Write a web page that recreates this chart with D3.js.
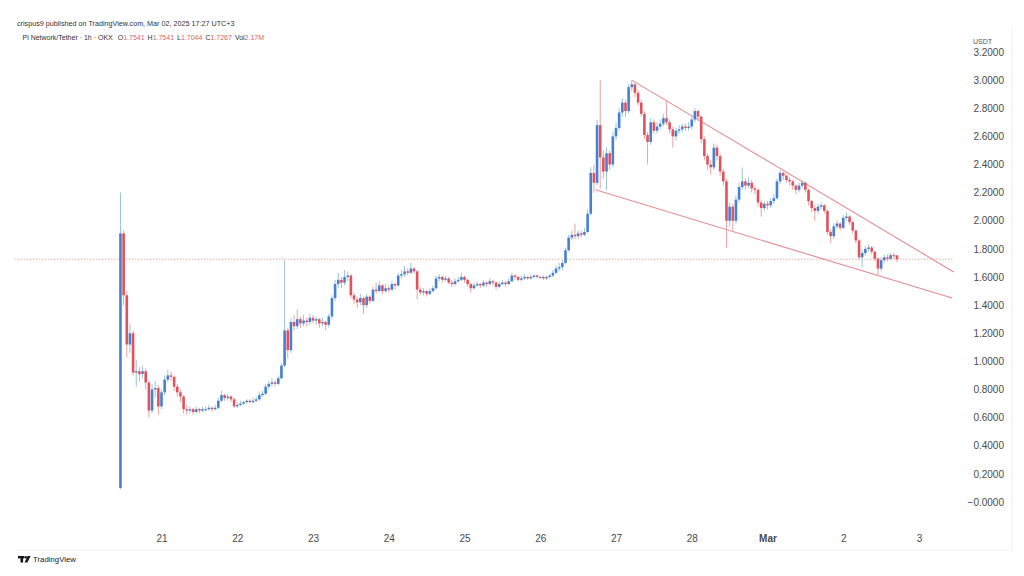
<!DOCTYPE html>
<html><head><meta charset="utf-8">
<script src="https://cdn.jsdelivr.net/npm/d3@7"></script>
<style>body{margin:0;background:#fff}svg{display:block;font-family:"Liberation Sans",Arial,sans-serif}</style>
</head><body><svg id="c" width="1024" height="576"></svg>
<script>
// ---- data (Pi Network / Tether, 1h, OKX; times in UTC+3) ----
const seriesStart = "2025-02-20T11:00";
const firstOpen = 0.10;
const closes = [
1.91,1.47,1.12,1.20,0.92,0.93,0.91,0.93,0.85,0.65,
0.80,0.81,0.68,0.78,0.87,0.90,0.89,0.82,0.78,0.75,
0.66,0.65,0.66,0.64,0.66,0.65,0.66,0.66,0.67,0.66,
0.67,0.72,0.76,0.74,0.75,0.73,0.68,0.69,0.70,0.71,
0.72,0.71,0.72,0.73,0.76,0.77,0.82,0.84,0.85,0.84,
0.88,0.97,1.22,1.08,1.28,1.25,1.30,1.27,1.29,1.28,
1.31,1.29,1.30,1.27,1.28,1.26,1.32,1.45,1.55,1.58,
1.56,1.60,1.61,1.47,1.44,1.42,1.45,1.40,1.46,1.43,
1.51,1.50,1.54,1.50,1.52,1.51,1.55,1.54,1.61,1.62,
1.64,1.63,1.66,1.64,1.51,1.49,1.50,1.48,1.50,1.52,
1.59,1.60,1.58,1.59,1.56,1.55,1.57,1.58,1.60,1.58,
1.55,1.52,1.54,1.55,1.54,1.56,1.55,1.57,1.56,1.53,
1.55,1.56,1.55,1.57,1.61,1.60,1.58,1.59,1.60,1.59,
1.60,1.61,1.60,1.60,1.59,1.60,1.61,1.63,1.66,1.67,
1.70,1.79,1.88,1.90,1.89,1.91,1.90,1.92,2.05,2.34,
2.27,2.68,2.45,2.35,2.48,2.40,2.60,2.66,2.77,2.84,
2.78,2.95,2.97,2.91,2.84,2.76,2.61,2.56,2.70,2.64,
2.67,2.69,2.73,2.70,2.65,2.60,2.64,2.65,2.67,2.66,
2.67,2.72,2.78,2.74,2.58,2.46,2.40,2.38,2.52,2.46,
2.35,2.28,2.00,2.10,2.00,2.15,2.24,2.28,2.25,2.27,
2.23,2.22,2.13,2.09,2.12,2.11,2.14,2.16,2.28,2.34,
2.32,2.29,2.28,2.25,2.22,2.25,2.27,2.22,2.14,2.09,
2.07,2.10,2.11,2.07,1.92,1.89,1.96,1.98,1.95,2.02,
2.03,1.99,1.93,1.86,1.74,1.77,1.80,1.81,1.78,1.73,
1.66,1.72,1.74,1.73,1.755,1.7541,1.7267];
const highs = [
2.20,1.93,1.50,1.27,1.22,1.01,0.96,0.97,0.95,0.86,
0.84,0.86,0.83,0.80,0.90,0.94,0.93,0.90,0.84,0.80,
0.76,0.69,0.68,0.67,0.68,0.67,0.68,0.68,0.69,0.68,
0.69,0.74,0.79,0.77,0.77,0.76,0.74,0.71,0.72,0.72,
0.73,0.73,0.74,0.75,0.78,0.79,0.84,0.86,0.88,0.87,
0.90,0.99,1.72,1.24,1.31,1.33,1.37,1.32,1.33,1.31,
1.34,1.33,1.32,1.31,1.31,1.29,1.34,1.47,1.58,1.63,
1.60,1.65,1.64,1.62,1.49,1.46,1.48,1.46,1.48,1.47,
1.53,1.56,1.57,1.55,1.55,1.54,1.57,1.56,1.63,1.65,
1.68,1.66,1.70,1.67,1.65,1.53,1.52,1.51,1.52,1.54,
1.61,1.62,1.61,1.61,1.60,1.58,1.59,1.60,1.63,1.61,
1.59,1.56,1.56,1.57,1.56,1.58,1.57,1.59,1.58,1.57,
1.57,1.58,1.57,1.59,1.63,1.62,1.61,1.61,1.62,1.61,
1.62,1.62,1.62,1.61,1.61,1.61,1.62,1.65,1.68,1.70,
1.72,1.81,1.90,1.93,1.98,1.93,1.93,1.95,2.08,2.38,
2.40,2.72,3.00,2.50,2.52,2.50,2.63,2.70,2.80,2.87,
2.86,2.97,3.00,2.98,2.93,2.86,2.78,2.63,2.73,2.72,
2.70,2.72,2.76,2.86,2.72,2.67,2.66,2.68,2.69,2.69,
2.70,2.75,2.80,2.79,2.75,2.60,2.48,2.43,2.55,2.54,
2.48,2.37,2.30,2.13,2.12,2.18,2.27,2.38,2.30,2.31,
2.29,2.25,2.23,2.15,2.14,2.14,2.16,2.19,2.30,2.36,
2.35,2.33,2.31,2.29,2.26,2.27,2.29,2.28,2.23,2.15,
2.11,2.12,2.13,2.12,2.08,1.94,1.98,2.00,1.99,2.04,
2.06,2.04,2.00,1.94,1.87,1.79,1.82,1.83,1.82,1.79,
1.74,1.74,1.76,1.76,1.77,1.77,1.7541];
const lows = [
0.09,1.40,1.03,1.06,0.90,0.82,0.86,0.88,0.80,0.60,
0.63,0.74,0.62,0.66,0.76,0.85,0.86,0.79,0.75,0.71,
0.63,0.62,0.63,0.62,0.63,0.63,0.64,0.64,0.65,0.64,
0.65,0.66,0.71,0.72,0.72,0.71,0.67,0.67,0.68,0.69,
0.70,0.70,0.70,0.71,0.72,0.75,0.76,0.80,0.82,0.82,
0.83,0.87,0.96,1.02,1.06,1.22,1.23,1.24,1.25,1.25,
1.26,1.27,1.26,1.24,1.25,1.22,1.24,1.30,1.43,1.52,
1.52,1.54,1.57,1.45,1.41,1.38,1.40,1.34,1.38,1.41,
1.42,1.48,1.49,1.48,1.49,1.49,1.50,1.51,1.53,1.59,
1.60,1.61,1.62,1.62,1.44,1.47,1.47,1.46,1.47,1.49,
1.51,1.57,1.56,1.57,1.55,1.53,1.54,1.56,1.57,1.56,
1.53,1.49,1.51,1.53,1.52,1.53,1.53,1.54,1.54,1.51,
1.52,1.54,1.53,1.54,1.56,1.58,1.57,1.57,1.58,1.58,
1.58,1.59,1.59,1.59,1.58,1.58,1.59,1.60,1.62,1.64,
1.65,1.69,1.78,1.86,1.87,1.87,1.88,1.89,1.91,2.04,
2.20,2.25,2.23,2.30,2.22,2.36,2.38,2.57,2.64,2.74,
2.74,2.76,2.92,2.88,2.82,2.74,2.58,2.40,2.54,2.62,
2.62,2.65,2.67,2.68,2.62,2.52,2.57,2.62,2.63,2.64,
2.64,2.65,2.70,2.71,2.55,2.43,2.36,2.33,2.36,2.43,
2.32,2.25,1.81,1.96,1.92,1.98,2.13,2.22,2.22,2.23,
2.20,2.19,2.10,2.03,2.07,2.08,2.09,2.12,2.15,2.26,
2.29,2.27,2.25,2.22,2.19,2.20,2.23,2.20,2.11,2.06,
2.00,2.05,2.08,2.05,1.90,1.84,1.87,1.94,1.93,1.94,
2.00,1.97,1.91,1.84,1.72,1.67,1.75,1.78,1.76,1.71,
1.61,1.64,1.70,1.71,1.72,1.73,1.7044];
const volumeLabel = "2.17M";
const dayTicks = ["2025-02-21","2025-02-22","2025-02-23","2025-02-24","2025-02-25","2025-02-26","2025-02-27","2025-02-28","2025-03-01","2025-03-02","2025-03-03"];
const dayTickLabels = ["21","22","23","24","25","26","27","28","Mar","2","3"];
const priceTicks = [3.2,3.0,2.8,2.6,2.4,2.2,2.0,1.8,1.6,1.4,1.2,1.0,0.8,0.6,0.4,0.2,0];
const priceTickLabels = ["3.2000","3.0000","2.8000","2.6000","2.4000","2.2000","2.0000","1.8000","1.6000","1.4000","1.2000","1.0000","0.8000","0.6000","0.4000","0.2000","\u22120.0000"];
const upperTrend = [["2025-02-27T05:00",3.00],["2025-03-03T11:00",1.636]];
const lowerTrend = [["2025-02-26T17:30",2.22],["2025-03-03T10:30",1.45]];

// ---- rendering ----
const UP = "#4680d2", DOWN = "#e0535d", UPW = "#9cc5d3", DOWNW = "#e9a2a7";
const pT = d3.utcParse("%Y-%m-%dT%H:%M"), pD = d3.utcParse("%Y-%m-%d");
const svg = d3.select("#c");
svg.append("rect").attr("width",1024).attr("height",576).attr("fill","#fff");

const x = d3.scaleUtc().domain([pD("2025-02-21"), pD("2025-03-03")]).range([161.5, 919]);
const y = d3.scaleLinear().domain([0, 3.2]).range([502, 52]);

const t0 = pT(seriesStart);
const candles = closes.map((c,i)=>({
  t: d3.utcHour.offset(t0, i),
  o: i===0 ? firstOpen : closes[i-1],
  h: highs[i], l: lows[i], c: c
}));
const last = candles[candles.length-1];

// faint frame
svg.append("line").attr("x1",1012).attr("x2",1012).attr("y1",28).attr("y2",550).attr("stroke","#f1f1f1");
svg.append("line").attr("x1",15).attr("x2",1012).attr("y1",550).attr("y2",550).attr("stroke","#f1f1f1");

// last price dotted line
svg.append("line").attr("x1",15).attr("x2",953)
  .attr("y1",y(last.c)).attr("y2",y(last.c))
  .attr("stroke","#e8a49a").attr("stroke-width",0.9).attr("stroke-dasharray","1.5,1.5");

// trendlines
const tl = d3.line().x(d=>x(pT(d[0]))).y(d=>y(d[1]));
[upperTrend, lowerTrend].forEach(tr=>{
  svg.append("path").attr("d", tl(tr)).attr("fill","none").attr("stroke","#e58c95").attr("stroke-width",1.1);
});

// candles
const bw = 2.6;
const g = svg.append("g");
g.selectAll("line.w").data(candles).join("line").attr("class","w")
  .attr("x1",d=>x(d.t)).attr("x2",d=>x(d.t))
  .attr("y1",d=>y(d.h)).attr("y2",d=>y(d.l))
  .attr("stroke",d=>d.c>=d.o?UPW:DOWNW).attr("stroke-width",1);
g.selectAll("rect.b").data(candles).join("rect").attr("class","b")
  .attr("x",d=>x(d.t)-bw/2).attr("width",bw)
  .attr("y",d=>y(Math.max(d.o,d.c)))
  .attr("height",d=>Math.max(1, Math.abs(y(d.o)-y(d.c))))
  .attr("fill",d=>d.c>=d.o?UP:DOWN);

// price axis
const ya = svg.append("g").attr("transform","translate(1004,0)")
  .call(d3.axisRight(y).tickValues(priceTicks).tickFormat((d,i)=>priceTickLabels[i]).tickSize(0).tickPadding(0));
ya.select(".domain").remove();
ya.selectAll("text").attr("text-anchor","end").attr("x",0)
  .attr("fill","#4a4a4a").style("font-size","10px").style("font-family","'Liberation Sans',Arial,sans-serif");
svg.append("text").attr("x",973).attr("y",44).text("USDT")
  .attr("fill","#555").style("font-size","7px");

// time axis
const xa = svg.append("g").attr("transform","translate(0,532)")
  .call(d3.axisBottom(x).tickValues(dayTicks.map(pD)).tickFormat((d,i)=>dayTickLabels[i]).tickSize(0).tickPadding(3));
xa.select(".domain").remove();
xa.selectAll("text").attr("fill","#4a4a4a").style("font-size","10px")
  .style("font-family","'Liberation Sans',Arial,sans-serif")
  .style("font-weight",(d,i)=>dayTickLabels[i]==="Mar"?"bold":"normal");

// header
svg.append("text").attr("x",17).attr("y",25.5).attr("fill","#333").style("font-size","7.2px")
  .text("crispus9 published on TradingView.com, Mar 02, 2025 17:27 UTC+3");
const h2 = svg.append("text").attr("x",22.5).attr("y",39.5).style("font-size","7px").attr("fill","#333");
h2.append("tspan").text("Pi Network/Tether \u00b7 1h \u00b7 OKX ");
const ohlc = [["O",last.o.toFixed(4)],["H",last.h.toFixed(4)],["L",last.l.toFixed(4)],["C",last.c.toFixed(4)],["Vol",volumeLabel]];
ohlc.forEach(([k,v])=>{
  h2.append("tspan").attr("dx",3).attr("fill","#333").text(k);
  h2.append("tspan").attr("fill","#e0606a").text(v);
});

// TradingView logo
const lg = svg.append("g").attr("fill","#131722");
lg.append("rect").attr("x",18).attr("y",556).attr("width",6).attr("height",2.4);
lg.append("rect").attr("x",20.5).attr("y",556).attr("width",2.6).attr("height",6.5);
lg.append("circle").attr("cx",25.6).attr("cy",557.3).attr("r",1.3);
lg.append("path").attr("d","M27.6 556 L30.6 556 L27.4 562.5 L24.6 562.5 Z");
svg.append("text").attr("x",33).attr("y",562.3).attr("fill","#131722").style("font-size","7.8px").text("TradingView");
</script></body></html>
